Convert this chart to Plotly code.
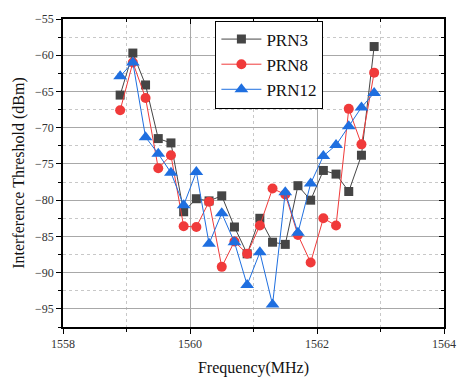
import plotly.graph_objects as go

freq = [1558.9, 1559.1, 1559.3, 1559.5, 1559.7, 1559.9, 1560.1, 1560.3, 1560.5, 1560.7,
        1560.9, 1561.1, 1561.3, 1561.5, 1561.7, 1561.9, 1562.1, 1562.3, 1562.5, 1562.7, 1562.9]
prn3 = [-65.5, -59.7, -64.1, -71.5, -72.1, -81.6, -79.8, -80.1, -79.4, -83.7,
        -87.4, -82.5, -85.8, -86.1, -78.0, -80.0, -75.9, -76.4, -78.8, -73.8, -58.8]
prn8 = [-67.6, -61.0, -65.9, -75.6, -73.8, -83.6, -83.7, -80.2, -89.2, -85.7,
        -87.4, -83.5, -78.4, -79.2, -84.8, -88.6, -82.5, -83.5, -67.4, -72.3, -62.4]
prn12 = [-62.9, -61.0, -71.3, -73.6, -76.2, -80.7, -76.1, -86.0, -81.8, -85.8,
         -91.7, -87.2, -94.4, -78.9, -84.5, -77.7, -73.9, -72.4, -69.8, -67.2, -65.2]

xrange_ = [1558, 1564]
yrange_ = [-97.5, -55]
xticks = [1558, 1560, 1562, 1564]
yticks = [-95, -90, -85, -80, -75, -70, -65, -60, -55]

font = "Liberation Serif"

fig = go.Figure()
fig.add_trace(go.Scatter(x=freq, y=prn3, mode="lines+markers", name="PRN3",
                         line=dict(color="#454545", width=1),
                         marker=dict(symbol="square", size=9, color="#454545")))
fig.add_trace(go.Scatter(x=freq, y=prn8, mode="lines+markers", name="PRN8",
                         line=dict(color="#f03a3a", width=1),
                         marker=dict(symbol="circle", size=10, color="#f03a3a")))
fig.add_trace(go.Scatter(x=freq, y=prn12, mode="lines+markers", name="PRN12",
                         line=dict(color="#1f6fe0", width=1),
                         marker=dict(symbol="triangle-up", size=12, color="#1f6fe0")))

fig.update_layout(
    width=468, height=386,
    margin=dict(l=63, r=13, t=15, b=55),
    paper_bgcolor="white", plot_bgcolor="white",
    font=dict(family=font, size=12, color="#222"),
    showlegend=True,
    legend=dict(x=0.40, y=0.995, xanchor="left", yanchor="top",
                bordercolor="black", borderwidth=1, bgcolor="white",
                font=dict(family=font, size=17, color="#111"),
                tracegroupgap=0, itemwidth=40),
    xaxis=dict(range=xrange_, tickvals=xticks, ticks="outside", ticklen=5,
               tickcolor="black", showline=True, linecolor="black", linewidth=1.5,
               showgrid=True, gridcolor="#a8a8a8", gridwidth=1.2, zeroline=False,
               minor=dict(dtick=1, tick0=1558, ticks="outside", ticklen=3, tickcolor="black",
                          showgrid=True, gridcolor="#c8c8c8", griddash="dot", gridwidth=1),
               title=dict(text="Frequency(MHz)", font=dict(family=font, size=16, color="#111"), standoff=12),
               tickfont=dict(family=font, size=12, color="#333")),
    yaxis=dict(range=yrange_, tickvals=yticks, ticks="outside", ticklen=5,
               tickcolor="black", showline=True, linecolor="black", linewidth=1.5,
               showgrid=True, gridcolor="#a8a8a8", gridwidth=1.2, zeroline=False,
               minor=dict(dtick=2.5, tick0=-55, ticks="outside", ticklen=3, tickcolor="black",
                          showgrid=True, gridcolor="#c8c8c8", griddash="dot", gridwidth=1),
               title=dict(text="Interference Threshold (dBm)", font=dict(family=font, size=16, color="#111"), standoff=6),
               tickfont=dict(family=font, size=12, color="#333")),
    xaxis2=dict(range=xrange_, overlaying="x", side="top", tickvals=xticks, ticks="inside", ticklen=5,
                tickcolor="black", showline=True, linecolor="black", linewidth=1.5,
                showticklabels=False, showgrid=False, zeroline=False,
                minor=dict(dtick=1, tick0=1558, ticks="inside", ticklen=3, tickcolor="black", showgrid=False)),
    yaxis2=dict(range=yrange_, overlaying="y", side="right", tickvals=yticks, ticks="inside", ticklen=5,
                tickcolor="black", showline=True, linecolor="black", linewidth=1.5,
                showticklabels=False, showgrid=False, zeroline=False,
                minor=dict(dtick=2.5, tick0=-55, ticks="inside", ticklen=3, tickcolor="black", showgrid=False)),
)
fig.add_trace(go.Scatter(x=[xrange_[0]], y=[yrange_[0]], xaxis="x2", yaxis="y2",
                         mode="markers", marker=dict(opacity=0), showlegend=False, hoverinfo="skip"))

fig.write_html("out.html")
